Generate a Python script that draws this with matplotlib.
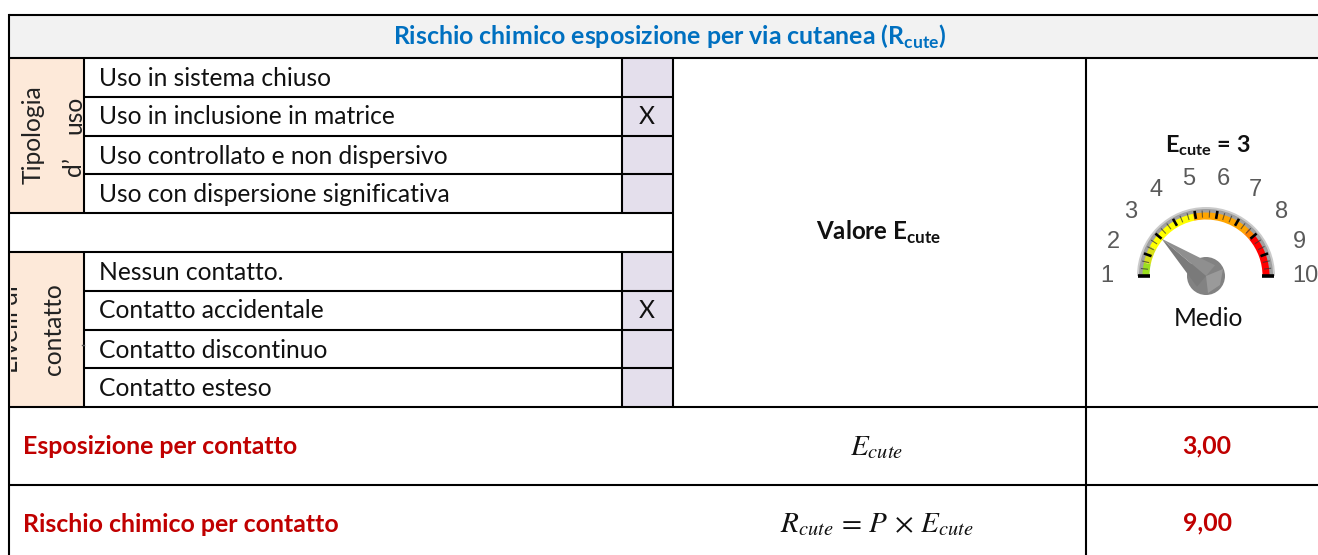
import matplotlib
matplotlib.use('Agg')
import numpy as np
import matplotlib.pyplot as plt
from matplotlib.patches import Rectangle, Wedge, Circle, Polygon

plt.rcParams['font.family'] = ['Lato', 'DejaVu Sans']
plt.rcParams['mathtext.fontset'] = 'custom'
plt.rcParams['mathtext.bf'] = 'Lato:bold'
plt.rcParams['mathtext.rm'] = 'Lato'

title = r'Rischio chimico esposizione per via cutanea (R$_{\mathbf{cute}}$)'
uso_rows = ['Uso in sistema chiuso', 'Uso in inclusione in matrice',
            'Uso controllato e non dispersivo', 'Uso con dispersione significativa']
uso_marks = ['', 'X', '', '']
contatto_rows = ['Nessun contatto.', 'Contatto accidentale', 'Contatto discontinuo', 'Contatto esteso']
contatto_marks = ['', 'X', '', '']
result_labels = ['Esposizione per contatto', 'Rischio chimico per contatto']
result_formulas = [r'$E_{cute}$', r'$R_{cute}\,=\,P\,\times\,E_{cute}$']
result_values = ['3,00', '9,00']
gauge_value = 3
gauge_labels = [1, 2, 3, 4, 5, 6, 7, 8, 9, 10]
gauge_bands = [(1, 1.6, '#9be01e'), (1.6, 2.4, '#d8e01a'), (2.4, 4.9, '#ffff00'),
               (4.9, 7.6, '#ffa500'), (7.6, 8.0, '#ff8000'), (8.0, 10, '#ff0000')]

# pixel grid of the table
row_y = [58, 97, 136, 174, 213, 252, 291, 330, 368, 407, 485]
col_label, col_text, col_mark, col_mid, col_val = 8.5, 84, 622, 673, 1086
W, H = 1318, 555
LW = 1.5

fig = plt.figure(figsize=(W / 100, H / 100), dpi=100)
ax = fig.add_axes([0, 0, 1, 1])
ax.set_xlim(0, W)
ax.set_ylim(H, 0)
ax.axis('off')

# fills
ax.add_patch(Rectangle((col_label, 15), W - col_label, 43, fc='#f2f2f2', ec='none'))
ax.add_patch(Rectangle((col_label, 58), col_text - col_label, 155, fc='#fde9d9', ec='none'))
ax.add_patch(Rectangle((col_label, 252), col_text - col_label, 155, fc='#fde9d9', ec='none'))
ax.add_patch(Rectangle((col_mark, 58), col_mid - col_mark, 155, fc='#e4dfec', ec='none'))
ax.add_patch(Rectangle((col_mark, 252), col_mid - col_mark, 155, fc='#e4dfec', ec='none'))

# grid lines
for y in [15, 58, 407, 485]:
    ax.plot([col_label, W], [y, y], color='black', lw=LW, solid_capstyle='butt')
for y in [213, 252]:
    ax.plot([col_label, col_mid], [y, y], color='black', lw=LW, solid_capstyle='butt')
for y in row_y[1:4] + row_y[6:9]:
    ax.plot([col_text, col_mid], [y, y], color='black', lw=LW, solid_capstyle='butt')
ax.plot([col_label, col_label], [15, H], color='black', lw=LW)
for x in [col_text, col_mark]:
    ax.plot([x, x], [58, 213], color='black', lw=LW, solid_capstyle='butt')
    ax.plot([x, x], [252, 407], color='black', lw=LW, solid_capstyle='butt')
ax.plot([col_mid, col_mid], [58, 407], color='black', lw=LW, solid_capstyle='butt')
ax.plot([col_val, col_val], [58, H], color='black', lw=LW, solid_capstyle='butt')

FS = 17.7
FSB = 17.9
ax.text(670, 37, title, color='#0070c0', fontsize=FSB, fontweight='bold', ha='center', va='center')

for rows, marks, y0 in [(uso_rows, uso_marks, 58), (contatto_rows, contatto_marks, 252)]:
    for i, (r, m) in enumerate(zip(rows, marks)):
        yc = y0 + 39 * i + 20
        ax.text(99, yc, r, fontsize=FS, color='#111111', ha='left', va='center')
        if m:
            ax.text(647, yc, m, fontsize=FS, color='#111111', ha='center', va='center')

# rotated row headers
ax.text(33, 135, 'Tipologia', rotation=90, fontsize=FS, color='#222222', ha='center', va='center')
ax.text(74, 167, 'd’', rotation=90, fontsize=FS, color='#222222', ha='center', va='center')
ax.text(74, 115, 'uso', rotation=90, fontsize=FS, color='#222222', ha='center', va='center')
# this one is cut off by its cell in the original
liv = ax.text(22, 329, 'Livelli di', rotation=90, fontsize=FS, color='#222222', ha='right', va='center', clip_on=True)
liv.set_clip_path(Rectangle((10.5, 285), 14, 88, transform=ax.transData))
ax.text(53, 329, 'contatto', rotation=90, fontsize=FS, color='#222222', ha='center', va='center')
ax.plot([82, 83.5], [345, 345], color='#555555', lw=1)

ax.text(879, 232, r'Valore E$_{\mathbf{cute}}$', fontsize=17.4, fontweight='bold', color='#111111', ha='center', va='center')

# result rows
for i, yc in enumerate([446, 523]):
    ax.text(23, yc + 1, result_labels[i], fontsize=FSB, fontweight='bold', color='#c00000', ha='left', va='center')
    ax.text(877, yc + 2, result_formulas[i], fontsize=21, color='#111111', ha='center', va='center', math_fontfamily='stix')
    ax.text(1207, yc, result_values[i], fontsize=FSB, fontweight='bold', color='#c00000', ha='center', va='center')

# gauge
cx, cy = 1206, 276
ang = lambda v: 180 + (v - 1) * 20

ax.text(1208, 146, r'E$_{\mathbf{cute}}$ = 3', fontsize=16.8, fontweight='bold', color='#111111', ha='center', va='center')
ax.text(1208.5, 318, 'Medio', fontsize=FS, color='#111111', ha='center', va='center')

ax.add_patch(Wedge((cx, cy), 69, 180, 360, width=2.5, fc='#b5b5b5', ec='none', alpha=0.7))
ax.add_patch(Wedge((cx, cy), 67, 180, 360, width=6, fc='#8f8f8f', ec='none', alpha=0.85))
for a, b, c in gauge_bands:
    ax.add_patch(Wedge((cx, cy), 63.5, ang(a), ang(b), width=7, fc=c, ec='none'))
for v in gauge_labels:
    t = np.radians(ang(v))
    end = v in (1, 10)
    r0 = 56 if end else 58
    r1 = 68 if end else 66
    ax.plot([cx + r0 * np.cos(t), cx + r1 * np.cos(t)], [cy + r0 * np.sin(t), cy + r1 * np.sin(t)],
            color='black', lw=2.6 if end else 1.9, solid_capstyle='butt')
    ax.text(cx + 99 * np.cos(t), cy + 99 * np.sin(t), str(v), fontsize=17, color='#5a5a5a',
            family='Liberation Sans', ha='center', va='center')
    if v < 10:
        for f in (0.33, 0.66):
            t2 = np.radians(ang(v + f))
            ax.plot([cx + 59 * np.cos(t2), cx + 65 * np.cos(t2)], [cy + 59 * np.sin(t2), cy + 65 * np.sin(t2)],
                    color='#333333', lw=0.8, alpha=0.7)

# needle
t = np.radians(ang(gauge_value))
n = np.array([-np.sin(t), np.cos(t)])
tip = np.array([cx + 58 * np.cos(t), cy + 58 * np.sin(t)])
base = np.array([cx, cy])
ax.add_patch(Circle((cx, cy), 19, fc='#828282', ec='none'))
ax.add_patch(Polygon([tip, base + n * 14, base], closed=True, fc='#8f8f8f', ec='none'))
ax.add_patch(Polygon([tip, base, base - n * 14], closed=True, fc='#7a7a7a', ec='none'))
ax.add_patch(Polygon([(cx, cy), (cx + 17, cy - 7), (cx + 14, cy + 9), (cx + 2, cy + 17)], closed=True, fc='#9a9a9a', ec='none'))

fig.savefig('out.png', dpi=100)
